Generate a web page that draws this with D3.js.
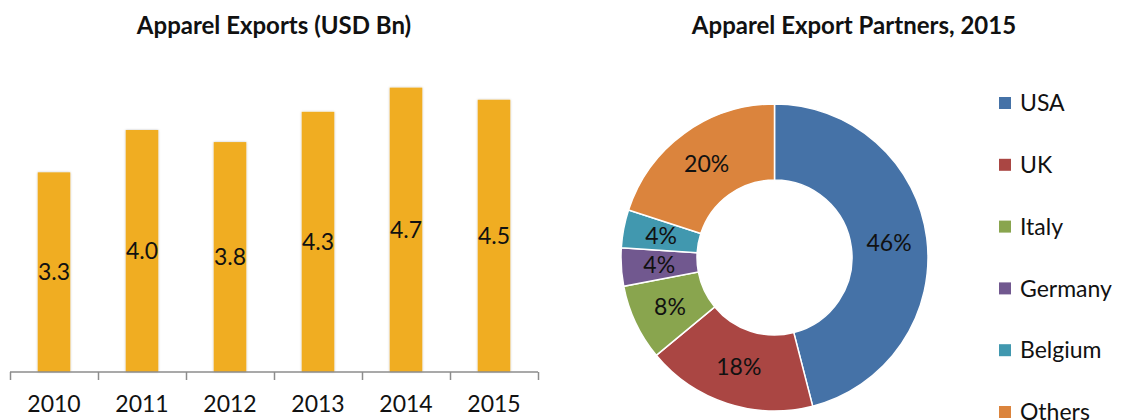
<!DOCTYPE html>
<html>
<head>
<meta charset="utf-8">
<title>Apparel Exports</title>
<script src="https://d3js.org/d3.v7.min.js"></script>
<style>
  body { margin: 0; background: #fff; }
  text { font-family: Lato, "Open Sans", sans-serif; fill: #111; }
</style>
</head>
<body>
<div id="chart"></div>
<script>
// bar chart data
var years = ["2010", "2011", "2012", "2013", "2014", "2015"];
var exports = [3.3, 4.0, 3.8, 4.3, 4.7, 4.5];

// donut data
var partners = ["USA", "UK", "Italy", "Germany", "Belgium", "Others"];
var shares = [46, 18, 8, 4, 4, 20];
var partnerColors = ["#4572A7", "#AA4643", "#89A54E", "#71588F", "#4198AF", "#DB843D"];

var width = 1122, height = 420;

var svg = d3.select("#chart").append("svg")
    .attr("width", width)
    .attr("height", height);

var defs = svg.append("defs");
defs.append("filter").attr("id", "shadow")
    .attr("x", "-20%").attr("y", "-20%").attr("width", "140%").attr("height", "140%")
  .append("feDropShadow")
    .attr("dx", 0).attr("dy", 0)
    .attr("stdDeviation", 1.2)
    .attr("flood-color", "#000")
    .attr("flood-opacity", 0.25);

// ---------- bar chart ----------
var x = d3.scaleBand()
    .domain(years)
    .range([10, 538])
    .paddingInner(0.63)
    .paddingOuter(0.315);

var y = d3.scaleLinear()
    .domain([0, 5])
    .range([372, 69.5]);

svg.append("text")
    .attr("x", 274)
    .attr("y", 34)
    .attr("text-anchor", "middle")
    .style("font-size", "24px")
    .style("font-weight", "bold")
    .text("Apparel Exports (USD Bn)");

var bars = svg.append("g");
bars.selectAll("rect")
    .data(exports)
    .join("rect")
    .attr("x", (d, i) => x(years[i]))
    .attr("y", d => y(d))
    .attr("width", x.bandwidth())
    .attr("height", d => y(0) - y(d))
    .attr("fill", "#F0AD20")
    .attr("filter", "url(#shadow)");

bars.selectAll("text")
    .data(exports)
    .join("text")
    .attr("x", (d, i) => x(years[i]) + x.bandwidth() / 2)
    .attr("y", d => (y(d) + y(0)) / 2)
    .attr("dy", "0.35em")
    .attr("text-anchor", "middle")
    .style("font-size", "23px")
    .text(d => d.toFixed(1));

// tick marks between categories
var slots = d3.scaleLinear().domain([0, years.length]).range([10, 538]);
var tickAxis = svg.append("g")
    .attr("transform", "translate(0," + y(0) + ")")
    .call(d3.axisBottom(slots).ticks(years.length).tickSize(8).tickFormat(""));
tickAxis.selectAll("path, line").attr("stroke", "#8c8c8c").attr("stroke-width", 1.5);
tickAxis.select(".domain").attr("d", "M10,0H538");

var labelAxis = svg.append("g")
    .attr("transform", "translate(0," + y(0) + ")")
    .call(d3.axisBottom(x).tickSize(0).tickPadding(24));
labelAxis.select(".domain").remove();
labelAxis.selectAll("text")
    .style("font-family", "Lato, sans-serif")
    .style("font-size", "23px")
    .attr("fill", "#111");

// ---------- donut ----------
svg.append("text")
    .attr("x", 854)
    .attr("y", 34)
    .attr("text-anchor", "middle")
    .style("font-size", "24px")
    .style("font-weight", "bold")
    .text("Apparel Export Partners, 2015");

var pie = d3.pie().sort(null).value(d => d);
var arc = d3.arc().innerRadius(77.5).outerRadius(153.5);

var donut = svg.append("g")
    .attr("transform", "translate(774.5,257.5)");

donut.selectAll("path")
    .data(pie(shares))
    .join("path")
    .attr("d", arc)
    .attr("fill", (d, i) => partnerColors[i])
    .attr("stroke", "#fff")
    .attr("stroke-width", 1.5);

donut.selectAll("text")
    .data(pie(shares))
    .join("text")
    .attr("transform", d => "translate(" + arc.centroid(d) + ")")
    .attr("dy", "0.35em")
    .attr("text-anchor", "middle")
    .style("font-size", "23px")
    .text(d => d.data + "%");

// legend
var legend = svg.append("g").selectAll("g")
    .data(partners)
    .join("g")
    .attr("transform", (d, i) => "translate(999," + (103 + i * 61.8) + ")");

legend.append("rect")
    .attr("x", 0).attr("y", -6)
    .attr("width", 12).attr("height", 12)
    .attr("fill", (d, i) => partnerColors[i]);

legend.append("text")
    .attr("x", 21)
    .attr("dy", "0.36em")
    .style("font-size", "23px")
    .text(d => d);
</script>
</body>
</html>
